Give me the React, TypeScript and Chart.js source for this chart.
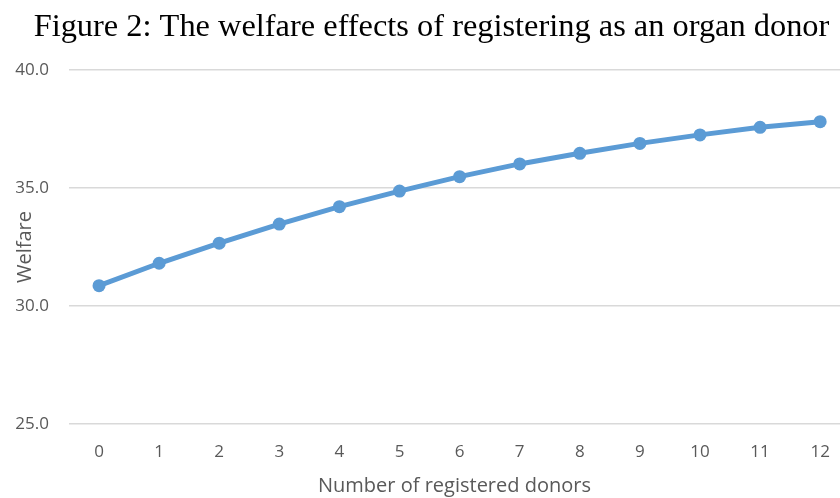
import React, { useEffect, useRef } from "react";
import { Chart, registerables } from "chart.js";

Chart.register(...registerables);

const donors = [0, 1, 2, 3, 4, 5, 6, 7, 8, 9, 10, 11, 12];
const welfare = [30.86, 31.81, 32.66, 33.47, 34.21, 34.87, 35.48, 36.02, 36.47, 36.89, 37.25, 37.57, 37.81];
const yTicks = [25, 30, 35, 40];
const titleText = "Figure 2: The welfare effects of registering as an organ donor";
const xTitle = "Number of registered donors";
const yTitle = "Welfare";

export default function App() {
  const ref = useRef<HTMLCanvasElement | null>(null);
  useEffect(() => {
    document.body.style.margin = "0";
    const ctx = ref.current!;
    const chart = new Chart(ctx, {
      type: "line",
      data: {
        datasets: [
          {
            data: donors.map((d, i) => ({ x: d, y: welfare[i] })),
            borderColor: "#5B9BD5",
            backgroundColor: "#5B9BD5",
            borderWidth: 5,
            pointRadius: 6.5,
            pointBorderWidth: 0,
            tension: 0,
            clip: false,
          },
        ],
      },
      options: {
        animation: false,
        responsive: false,
        maintainAspectRatio: false,
        layout: { autoPadding: false, padding: { left: 0, top: 0, bottom: 0, right: -23 } },
        plugins: {
          legend: { display: false },
          tooltip: { enabled: false },
          title: {
            display: true,
            text: titleText,
            color: "#000",
            font: { family: "Liberation Serif", size: 32.4, weight: "normal", lineHeight: 1.2 },
            padding: { top: 8, bottom: 23.1 },
          },
        },
        scales: {
          x: {
            type: "linear",
            min: -0.5,
            max: 12.33,
            afterBuildTicks: (scale: any) => {
              scale.ticks = donors.map((v) => ({ value: v }));
            },
            afterFit: (scale: any) => {
              scale.height = 74;
              scale.paddingLeft = 0;
              scale.paddingRight = 0;
            },
            grid: { display: false, drawTicks: false },
            border: { display: false },
            ticks: {
              color: "#595959",
              font: { family: "Open Sans", size: 17, lineHeight: 1.2 },
              padding: 18,
              maxRotation: 0,
              callback: (v: any) => String(v),
            },
            title: {
              display: true,
              text: xTitle,
              color: "#595959",
              font: { family: "Open Sans", size: 20, lineHeight: 1.2 },
              padding: { top: 10, bottom: 0 },
            },
          },
          y: {
            min: 25,
            max: 40,
            afterBuildTicks: (scale: any) => {
              scale.ticks = yTicks.map((v) => ({ value: v }));
            },
            afterFit: (scale: any) => {
              scale.width = 69;
            },
            grid: { color: "#d9d9d9", lineWidth: 1.5, drawTicks: false },
            border: { display: false },
            ticks: {
              color: "#595959",
              font: { family: "Open Sans", size: 17 },
              padding: 20,
              callback: (v: any) => Number(v).toFixed(1),
            },
            title: {
              display: true,
              text: yTitle,
              color: "#595959",
              font: { family: "Open Sans", size: 20, lineHeight: 1.2 },
              padding: { top: 13, bottom: 0 },
            },
          },
        },
      },
    });
    return () => chart.destroy();
  }, []);
  return (
    <div style={{ width: 840, height: 498, overflow: "hidden" }}>
      <canvas ref={ref} width={840} height={498} style={{ width: 840, height: 498, display: "block" }} />
    </div>
  );
}
